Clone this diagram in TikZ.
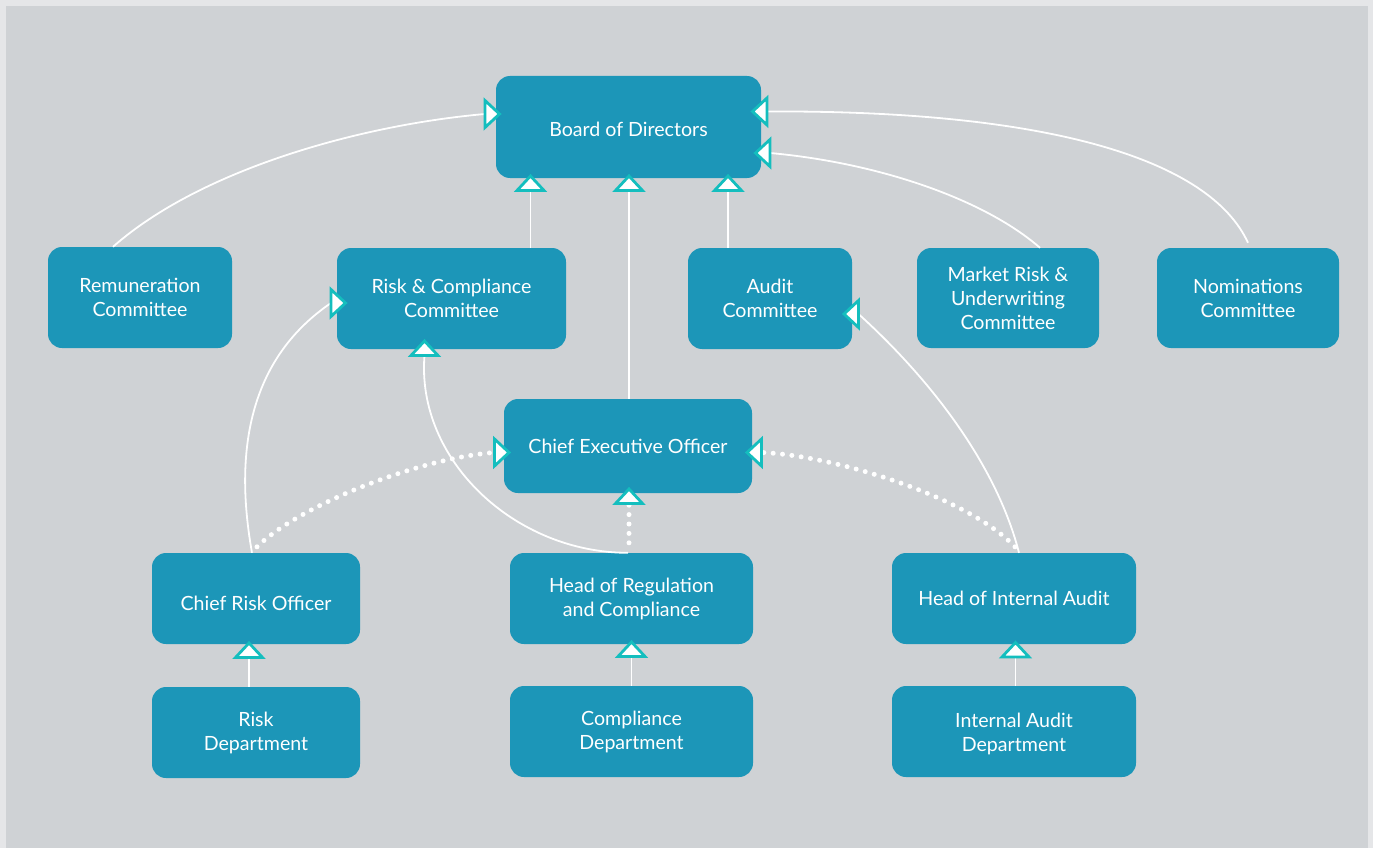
\documentclass[tikz,border=0pt]{standalone}
\usepackage{fontspec}
\setmainfont{Lato}
\definecolor{outerbg}{RGB}{229,230,232}
\definecolor{innerbg}{RGB}{207,210,213}
\definecolor{boxblue}{RGB}{28,150,184}
\definecolor{tealtri}{RGB}{20,190,190}
\newcommand\mytri[2]{\draw[tri, shift={(#1)}, rotate=#2] (14.5,0) -- (0,13.5) -- (0,-13.5) -- cycle;}
\newcommand\lowered[2]{\raisebox{-#1}[\height][\depth]{#2}}
\begin{document}
\begin{tikzpicture}[x=1pt,y=-1pt,
  box/.style={rectangle, rounded corners=14pt, fill=boxblue, text=white, align=center, inner sep=0pt, font=\fontsize{19.6}{24}\selectfont},
  link/.style={draw=white, line width=1.8pt},
  dotlink/.style={draw=white, line width=5pt, line cap=round, dash pattern=on 0pt off 9.4pt},
  tri/.style={fill=white, draw=tealtri, line width=2.8pt, line join=miter}]
\useasboundingbox (0,0) rectangle (1373,848);
\fill[outerbg] (0,0) rectangle (1373,848);
\fill[innerbg] (6,6) rectangle (1368,848);

% boxes
\node[box, minimum width=265pt, minimum height=102pt] (bod) at (628.5,127) {\lowered{2pt}{Board of Directors}};
\node[box, minimum width=184pt, minimum height=101pt] (rem) at (140,297.5) {Remuneration\\Committee};
\node[box, minimum width=229pt, minimum height=101pt] (rc) at (451.5,298.5) {Risk \& Compliance\\Committee};
\node[box, minimum width=164pt, minimum height=101pt] (aud) at (770,298.5) {Audit\\Committee};
\node[box, minimum width=182pt, minimum height=100pt] (mr) at (1008,298) {Market Risk \&\\Underwriting\\Committee};
\node[box, minimum width=182pt, minimum height=100pt] (nom) at (1248,298) {Nominations\\Committee};
\node[box, minimum width=248pt, minimum height=94pt] (ceo) at (628,446) {Chief Executive Officer};
\node[box, minimum width=208pt, minimum height=91pt] (cro) at (256,598.5) {\lowered{5pt}{Chief Risk Officer}};
\node[box, minimum width=243pt, minimum height=91pt] (hrc) at (631.5,598.5) {Head of Regulation\\and Compliance};
\node[box, minimum width=244pt, minimum height=91pt] (hia) at (1014,598.5) {Head of Internal Audit};
\node[box, minimum width=208pt, minimum height=91pt] (rdep) at (256,732.5) {Risk\\Department};
\node[box, minimum width=243pt, minimum height=91pt] (cdep) at (631.5,731.5) {Compliance\\Department};
\node[box, minimum width=244pt, minimum height=91pt] (iadep) at (1014,731.5) {\lowered{3pt}{\begin{tabular}{@{}c@{}}Internal Audit\\Department\end{tabular}}};

% arrow-head base points
\coordinate (bodL) at (485,114);
\coordinate (bodR1) at (767,111.5);
\coordinate (bodR2) at (770,153);
\coordinate (bodB1) at (530.5,190.5);
\coordinate (bodB2) at (629,190.5);
\coordinate (bodB3) at (728,190.5);
\coordinate (rcL) at (331,303);
\coordinate (rcB) at (424.5,355.5);
\coordinate (audR) at (858.5,314);
\coordinate (ceoL) at (494.5,452.5);
\coordinate (ceoR) at (761.5,452.5);
\coordinate (ceoB) at (629,503.5);
\coordinate (croB) at (249,657.5);
\coordinate (hrcB) at (631.5,656.5);
\coordinate (hiaB) at (1015.5,657);

% solid connectors
\draw[link] ([xshift=-27pt]rem.north) .. controls +(87,-77) and +(-125,11) .. (bodL);
\draw[link] ([yshift=5pt]nom.north) .. controls +(-38,-83) and +(283,-1.5) .. (bodR1);
\draw[link] ([xshift=32pt]mr.north) .. controls +(-55,-48) and +(110,10) .. (bodR2);
\draw[link] (bodB1 |- rc.north) -- (bodB1);
\draw[link] (bodB3 |- aud.north) -- (bodB3);
\draw[link] (bodB2 |- ceo.north) -- (bodB2);
\draw[link] ([xshift=-4pt]cro.north) .. controls +(-22,-123) and +(-69,47) .. (rcL);
\draw[link] ([xshift=-3.5pt]hrc.north) .. controls +(-113,0) and +(-8.5,104.5) .. (rcB);
\draw[link] ([xshift=5pt]hia.north) .. controls +(-23,-90) and +(69.5,63) .. (audR);
\draw[link] (croB |- rdep.north) -- (croB);
\draw[link] (hrcB |- cdep.north) -- (hrcB);
\draw[link] (hiaB |- iadep.north) -- (hiaB);

% dotted connectors
\draw[dotlink] ([xshift=1pt,yshift=6pt]cro.north) .. controls +(43,-42) and +(-74.5,5.5) .. (ceoL);
\draw[dotlink] ([xshift=1pt,yshift=6pt]hia.north) .. controls +(-50,-52) and +(68.5,2.5) .. (ceoR);
\draw[dotlink] ([yshift=10pt]ceoB |- hrc.north) -- (ceoB);

% arrow heads
\mytri{bodL}{0}
\mytri{bodR1}{180}
\mytri{bodR2}{180}
\mytri{bodB1}{90}
\mytri{bodB2}{90}
\mytri{bodB3}{90}
\mytri{rcL}{0}
\mytri{rcB}{90}
\mytri{audR}{180}
\mytri{ceoL}{0}
\mytri{ceoR}{180}
\mytri{ceoB}{90}
\mytri{croB}{90}
\mytri{hrcB}{90}
\mytri{hiaB}{90}
\end{tikzpicture}
\end{document}
